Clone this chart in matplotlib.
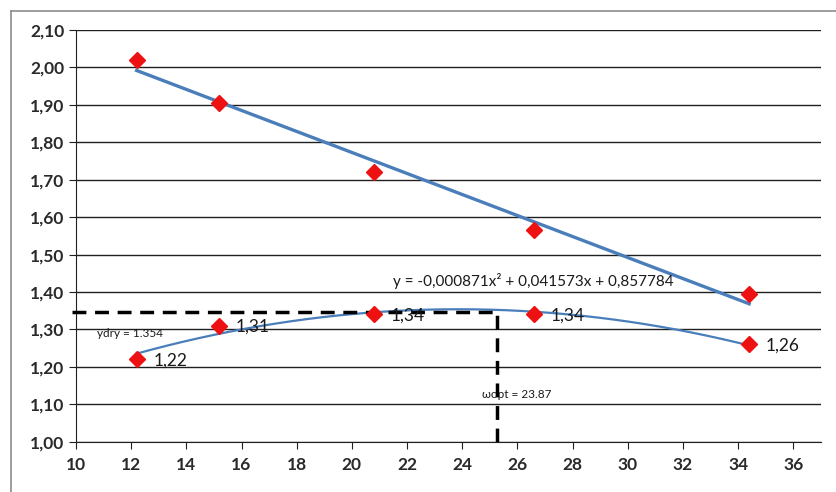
import numpy as np
import matplotlib
matplotlib.use("Agg")
import matplotlib.pyplot as plt
from matplotlib.lines import Line2D

plt.rcParams['font.family'] = ['Lato', 'DejaVu Sans']

# measured points
x_pts = [12.2, 15.2, 20.8, 26.6, 34.4]
y_top = [2.02, 1.905, 1.72, 1.565, 1.395]
y_low = [1.22, 1.31, 1.34, 1.34, 1.26]
low_labels = ["1,22", "1,31", "1,34", "1,34", "1,26"]

# quadratic trendline coefficients (from the equation on the chart)
quad = [-0.000871, 0.041573, 0.857784]
y_opt = 1.354
x_opt_line = 25.25

xticks = list(range(10, 37, 2))
yticks = [round(1.0 + 0.1 * i, 2) for i in range(12)]

fig = plt.figure(figsize=(8.36, 4.92), dpi=100)
ax = fig.add_axes([0.0909, 0.1022, 0.891, 0.837])

# outer frame of the chart area
fig.add_artist(Line2D([11/836, 11/836], [0, 1 - 11/492], color='#8c8c8c', lw=1.2))
fig.add_artist(Line2D([11/836, 1], [1 - 11/492, 1 - 11/492], color='#8c8c8c', lw=1.2))

ax.set_xlim(10, 37)
ax.set_ylim(1.0, 2.1)
ax.set_yticks(yticks)
ax.set_xticks(xticks)
ax.set_yticklabels([f"{v:.2f}".replace('.', ',') for v in yticks])
ax.grid(axis='y', color='#202020', lw=1.0)
ax.set_axisbelow(True)
for s in ['top', 'right']:
    ax.spines[s].set_visible(False)
ax.spines['left'].set_color('#202020')
ax.spines['bottom'].set_color('#202020')
ax.tick_params(axis='both', labelsize=12.5, length=5, color='#202020', direction='out')
ax.tick_params(axis='x', pad=6)
for lab in ax.get_xticklabels() + ax.get_yticklabels():
    lab.set_fontweight('bold')
    lab.set_color('#2a2a2a')

blue = '#4a7ebb'

# linear trendline on upper series
k, b = np.polyfit(x_pts, y_top, 1)
xl = np.array([x_pts[0], x_pts[-1]])
ax.plot(xl, k * xl + b, color=blue, lw=2.4, zorder=3)

# quadratic trendline on lower series
xq = np.linspace(x_pts[0], x_pts[-1], 200)
ax.plot(xq, np.polyval(quad, xq), color=blue, lw=1.6, zorder=3)

# dashed optimum lines
ax.plot([9.85, x_opt_line], [y_opt - 0.007, y_opt - 0.007], color='black', lw=2.5,
        ls=(0, (4, 2.5)), zorder=4, clip_on=False)
ax.plot([x_opt_line, x_opt_line], [1.0, y_opt - 0.007], color='black', lw=2.5,
        ls=(0, (4, 2.5)), zorder=4)

ax.plot(x_pts, y_top, ls='none', marker='D', ms=8, color='#ee1111', zorder=5)
ax.plot(x_pts, y_low, ls='none', marker='D', ms=8, color='#ee1111', zorder=5)

for xv, yv, lab in zip(x_pts, y_low, low_labels):
    ax.text(xv + 0.6, yv - 0.003, lab, fontsize=12.5, va='center', ha='left',
            color='#1a1a1a', zorder=6)

ax.text(21.5, 1.415, "y = -0,000871x\u00b2 + 0,041573x + 0,857784", fontsize=11,
        color='#1a1a1a')
ax.text(10.75, 1.29, "ydry = 1.354", fontsize=8.5, va='center', color='#1a1a1a')
ax.text(24.7, 1.127, "\u03c9opt = 23.87", fontsize=8.5, va='center', color='#1a1a1a')

fig.savefig("out.png", dpi=100)
